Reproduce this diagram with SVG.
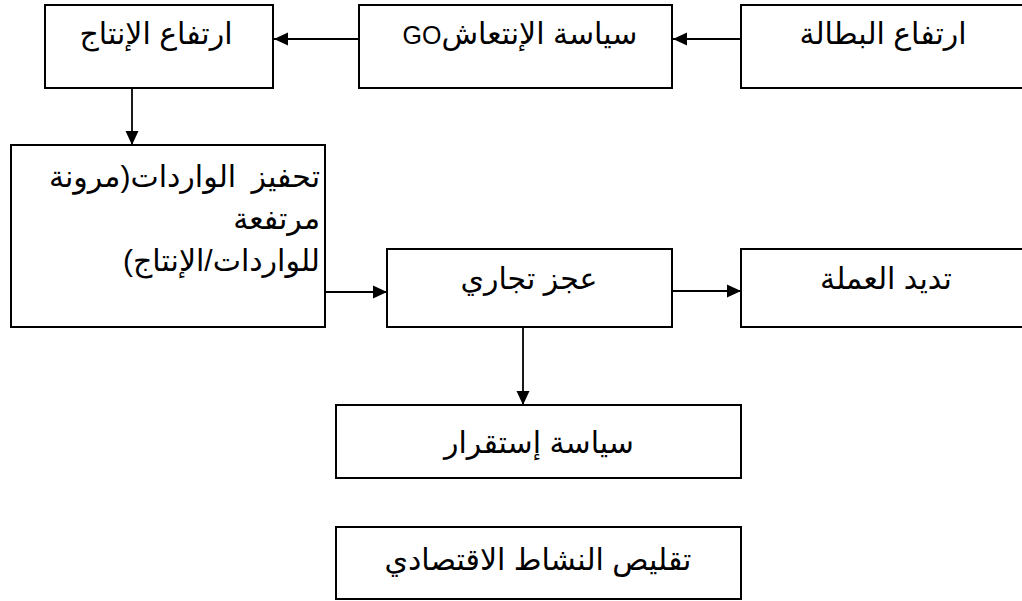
<svg xmlns="http://www.w3.org/2000/svg" width="1022" height="601" viewBox="0 0 1022 601">
<style>
.box{fill:#fff;stroke:#000;stroke-width:2}
.lbl{font-family:"Liberation Sans","DejaVu Sans",sans-serif;font-size:30px;fill:#000}
.lat{font-size:25px}
.c{text-anchor:middle}
.con{stroke:#000;stroke-width:1.8;fill:none}
</style>
<defs>
<marker id="ah" markerWidth="14" markerHeight="14" refX="14" refY="7" orient="auto" markerUnits="userSpaceOnUse">
<path d="M0,0.5 L14,7 L0,13.5 Z" fill="#000"/>
</marker>
</defs>
<rect width="1022" height="601" fill="#fff"/>
<g id="connectors">
<line class="con" x1="741" y1="39" x2="673" y2="39" marker-end="url(#ah)"/>
<line class="con" x1="359" y1="39" x2="274" y2="39" marker-end="url(#ah)"/>
<line class="con" x1="132" y1="88" x2="132" y2="145" marker-end="url(#ah)"/>
<line class="con" x1="325" y1="292" x2="387" y2="292" marker-end="url(#ah)"/>
<line class="con" x1="668" y1="291" x2="741" y2="291" marker-end="url(#ah)"/>
<line class="con" x1="523" y1="327" x2="523" y2="405" marker-end="url(#ah)"/>
</g>
<g id="n1"><rect class="box" x="45" y="5" width="228" height="83"/><text class="lbl c" x="156" y="44" direction="rtl">ارتفاع الإنتاج</text></g>
<g id="n2"><rect class="box" x="359" y="5" width="313" height="83"/><text class="lbl c" x="520" y="44" direction="rtl">سياسة الإنتعاش<tspan class="lat">GO</tspan></text></g>
<g id="n3"><rect class="box" x="741" y="5" width="290" height="83"/><text class="lbl c" x="883" y="44" direction="rtl">ارتفاع البطالة</text></g>
<g id="n4"><rect class="box" x="11" y="145" width="314" height="182"/>
<text class="lbl" x="320" y="187" direction="rtl" text-anchor="start" word-spacing="7">تحفيز الواردات(مرونة</text>
<text class="lbl" x="320" y="229" direction="rtl" text-anchor="start">مرتفعة</text>
<text class="lbl" x="320" y="271" direction="rtl" text-anchor="start">للواردات/الإنتاج)</text>
</g>
<g id="n5"><rect class="box" x="387" y="249" width="285" height="78"/><text class="lbl c" x="529" y="289" direction="rtl">عجز تجاري</text></g>
<g id="n6"><rect class="box" x="741" y="249" width="290" height="78"/><text class="lbl c" x="886" y="289" direction="rtl">تديد العملة</text></g>
<g id="n7"><rect class="box" x="336" y="405" width="405" height="73"/><text class="lbl c" x="539" y="453" direction="rtl">سياسة إستقرار</text></g>
<g id="n8"><rect class="box" x="336" y="527" width="405" height="72"/><text class="lbl c" x="538" y="570" direction="rtl">تقليص النشاط الاقتصادي</text></g>
</svg>
